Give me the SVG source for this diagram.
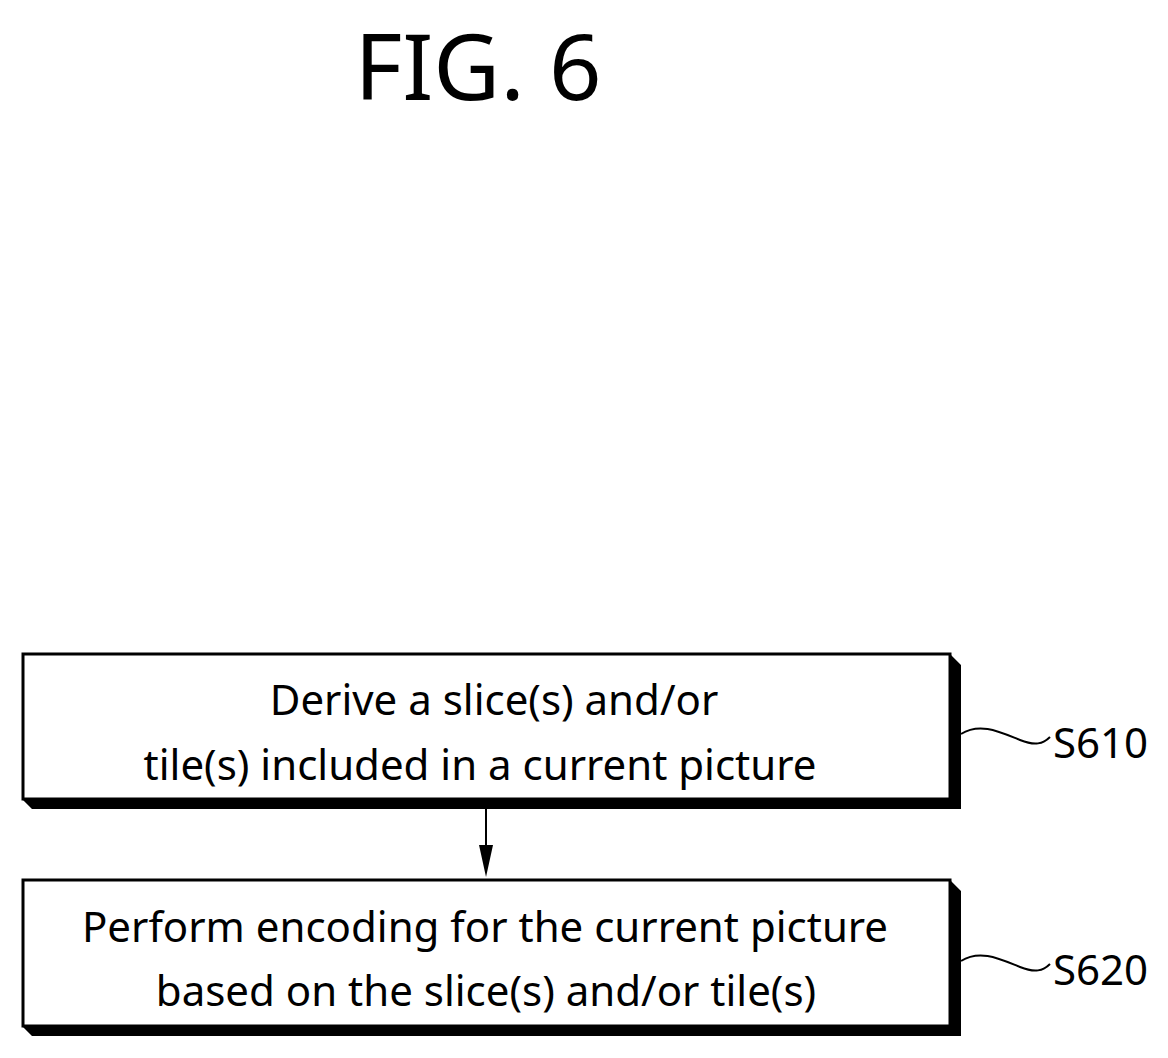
<svg xmlns="http://www.w3.org/2000/svg" width="1168" height="1058" viewBox="0 0 1168 1058">
<style>
text{font-family:"Noto Sans","Liberation Sans",sans-serif;fill:#000}
.t{font-size:42px;text-anchor:middle}
.l{font-size:42px}
.box{fill:#fff;stroke:#000;stroke-width:3}
.sh{fill:#000}
.c{fill:none;stroke:#000;stroke-width:2}
</style>
<defs><marker id="ah" markerWidth="14" markerHeight="30" refX="7" refY="30" orient="auto" markerUnits="userSpaceOnUse"><path d="M0,0 L14,0 L7,30 Z" fill="#000" transform="rotate(-90 7 15) translate(-8 8)"/></marker></defs>
<rect width="1168" height="1058" fill="#fff"/>
<text x="478" y="100" style="font-size:92px" text-anchor="middle">FIG. 6</text>
<g id="connectors">
<line x1="486" y1="809" x2="486" y2="850" stroke="#000" stroke-width="2"/>
<path d="M479,845 L493,845 L486,877 Z" fill="#000"/>
<path class="c" d="M961,734 C980,722 1000,732 1020,740 C1035,746 1043,744 1050,737"/>
<path class="c" d="M961,961 C980,949 1000,959 1020,967 C1035,973 1043,971 1050,964"/>
</g>
<g id="s610">
<path class="sh" d="M950,654 L961,665 L961,809 L32,809 L23,800 L950,800 Z"/>
<rect class="box" x="23" y="654" width="927" height="145"/>
<text class="t" x="494" y="715">Derive a slice(s) and/or</text>
<text class="t" x="480" y="780">tile(s) included in a current picture</text>
<text class="l" x="1053" y="758">S610</text>
</g>
<g id="s620">
<path class="sh" d="M950,880 L961,891 L961,1036 L32,1036 L23,1027 L950,1027 Z"/>
<rect class="box" x="23" y="880" width="927" height="146"/>
<text class="t" x="485" y="942">Perform encoding for the current picture</text>
<text class="t" x="486" y="1006">based on the slice(s) and/or tile(s)</text>
<text class="l" x="1053" y="985">S620</text>
</g>
</svg>
